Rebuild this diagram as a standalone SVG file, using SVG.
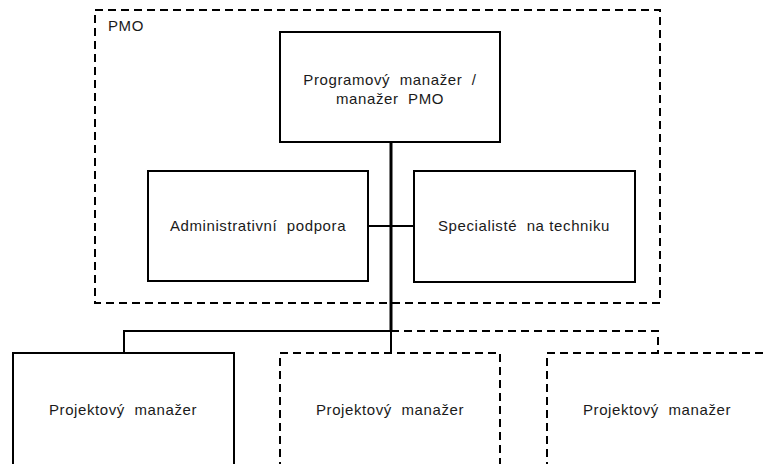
<svg xmlns="http://www.w3.org/2000/svg" width="763" height="464" viewBox="0 0 763 464">
<style>
.box{fill:#fff;stroke:#000;stroke-width:2}
.dash{fill:none;stroke:#000;stroke-width:2;stroke-dasharray:8 5}
.t{font-family:"Liberation Sans",Arial,sans-serif;font-size:15px;letter-spacing:0.6px;fill:#1a1a1a;text-anchor:middle;white-space:pre}
.c{fill:none;stroke:#000;stroke-width:2}
</style>
<rect width="763" height="464" fill="#fff"/>
<g id="pmo">
<rect class="dash" x="95" y="10" width="565" height="293"/>
<text class="t" x="108" y="31" style="text-anchor:start">PMO</text>
</g>
<g id="connectors">
<line class="c" x1="391" y1="142" x2="391" y2="331" style="stroke-width:3"/>
<line class="c" x1="368" y1="226" x2="414" y2="226"/>
<polyline class="c" points="391,331 124,331 124,353"/>
<line class="c" x1="391" y1="331" x2="391" y2="353"/>
<polyline class="dash" points="391,331 658,331 658,353"/>
</g>
<g id="programovy">
<rect class="box" x="280" y="32" width="220" height="110"/>
<text class="t" x="390" y="85" xml:space="preserve">Programový  manažer  /</text>
<text class="t" x="390" y="104" xml:space="preserve">manažer  PMO</text>
</g>
<g id="admin">
<rect class="box" x="148" y="171" width="220" height="110"/>
<text class="t" x="258" y="231" xml:space="preserve">Administrativní  podpora</text>
</g>
<g id="specialiste">
<rect class="box" x="414" y="171" width="221" height="111"/>
<text class="t" x="524" y="231" xml:space="preserve">Specialisté  na techniku</text>
</g>
<g id="pm1">
<rect class="box" x="13" y="353" width="221" height="125"/>
<text class="t" x="123" y="415" xml:space="preserve">Projektový  manažer</text>
</g>
<g id="pm2">
<path class="dash" d="M280,470 V353 H500 V470"/>
<text class="t" x="390" y="415" xml:space="preserve">Projektový  manažer</text>
</g>
<g id="pm3">
<path class="dash" d="M547,470 V353 H770"/>
<text class="t" x="657" y="415" xml:space="preserve">Projektový  manažer</text>
</g>
</svg>
